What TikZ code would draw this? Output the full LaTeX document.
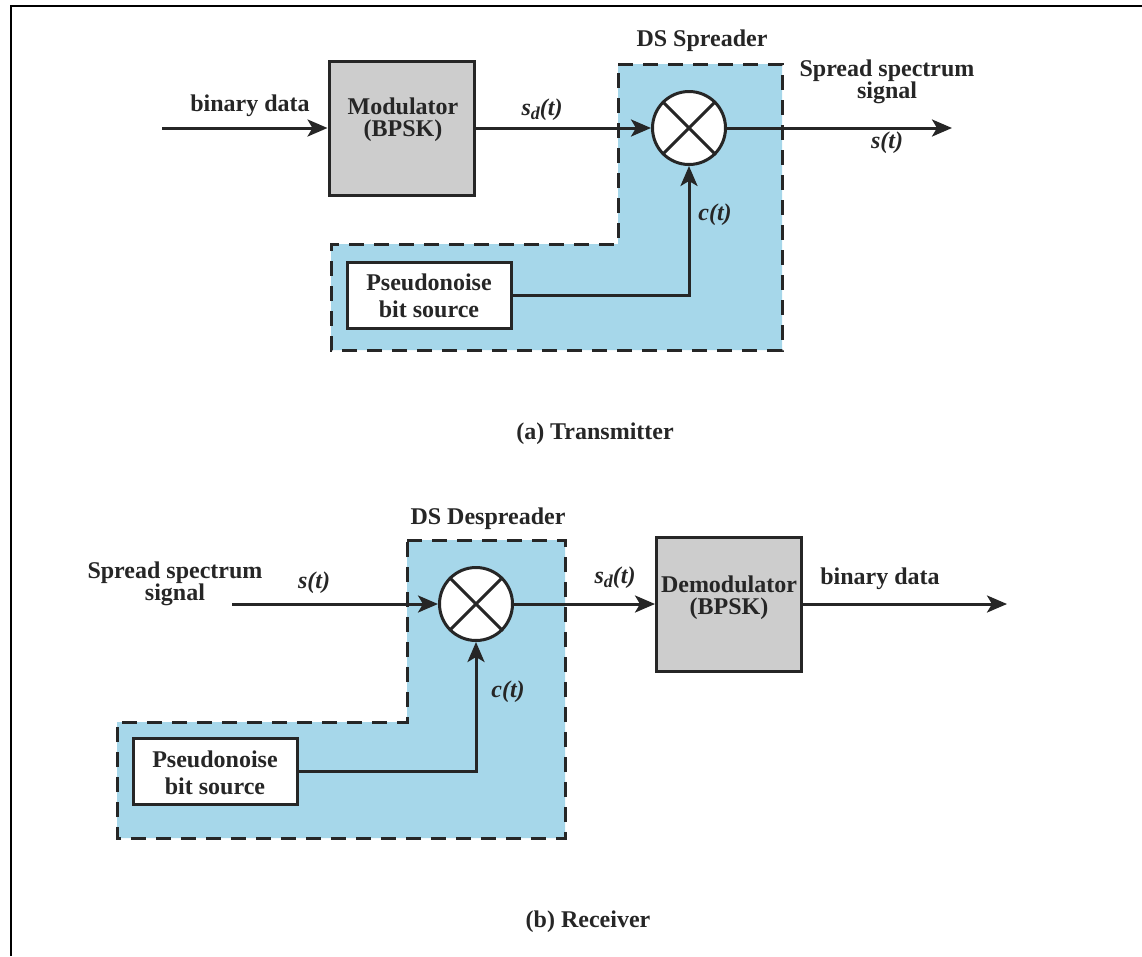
\documentclass[tikz,border=0pt]{standalone}
\usepackage{fontspec}
\setmainfont{Liberation Serif}
\usetikzlibrary{arrows.meta,positioning}
\definecolor{inkc}{HTML}{262626}
\definecolor{spreadblue}{HTML}{A6D7EA}
\definecolor{boxgray}{HTML}{CDCDCD}
\tikzset{
  lbl/.style={font=\fontsize{24}{22}\selectfont\bfseries, text=inkc, align=center, inner sep=0pt},
  mathlbl/.style={font=\fontsize{24}{22}\selectfont\bfseries\itshape, text=inkc, inner sep=0pt},
  graybox/.style={draw=inkc, line width=3pt, fill=boxgray, minimum width=145pt, minimum height=134pt, inner sep=0pt},
  pnbox/.style={draw=inkc, line width=3pt, fill=white, minimum width=164pt, minimum height=66pt, inner sep=0pt},
  pntext/.style={font=\fontsize{24}{27}\selectfont\bfseries, text=inkc, align=center, inner sep=0pt},
  mixer/.style={circle, draw=inkc, line width=3pt, fill=white, minimum size=73pt, inner sep=0pt},
  sig/.style={draw=inkc, line width=3pt, -{Stealth[length=20pt,width=17pt,inset=5pt]}},
  region/.style={draw=inkc, line width=3pt, fill=spreadblue, dash pattern=on 15pt off 10pt},
}
\begin{document}
\begin{tikzpicture}[x=1pt,y=-1pt]
\useasboundingbox (0,0) rectangle (1142,956);
% frame edges
\draw[line width=2pt, black] (11,956) -- (11,6) -- (1142,6);

% ---------------- Transmitter ----------------
\draw[region] (618,64) -- (782,64) -- (782,350) -- (331,350) -- (331,244) -- (618,244) -- cycle;
\node[lbl] (spreadtitle) at (702,41) {DS Spreader};

\coordinate (inA) at (162,128);
\coordinate (outA) at (952,128);
\node[graybox] (mod) at (401.5,128.5) {};
\node[lbl] (modtxt) at (403,120) {Modulator\\(BPSK)};
\node[mixer] (mixA) at (689,128) {};
\draw[line width=3pt, draw=inkc] (mixA.45) -- (mixA.225) (mixA.135) -- (mixA.315);
\node[pnbox] (pnA) at (429,295) {};
\node[pntext] (pnAtxt) at (429,296) {Pseudonoise\\bit source};

\draw[sig] (inA) -- (mod.west |- inA);
\draw[sig] (mod.east |- mixA) -- (mixA.west);
\draw[sig] (mixA.east) -- (outA);
\draw[sig] (pnA.east) -| (mixA.south);

\node[lbl] (bdA) at (250,106) {binary data};
\node[mathlbl] (sdA) at (542,110) {s\raisebox{-4pt}{\fontsize{18}{18}\selectfont d}(t)};
\node[lbl] (sssA) at (887,82) {Spread spectrum\\signal};
\node[mathlbl] (stA) at (887,143) {s(t)};
\node[mathlbl] (ctA) at (715,215) {c(t)};
\node[lbl] (capA) at (595,434) {(a) Transmitter};

% ---------------- Receiver ----------------
\draw[region] (407,540) -- (565,540) -- (565,838) -- (117,838) -- (117,722) -- (407,722) -- cycle;
\node[lbl] (despreadtitle) at (488,519) {DS Despreader};

\coordinate (inB) at (232,604);
\coordinate (outB) at (1007,604);
\node[mixer] (mixB) at (476,604) {};
\draw[line width=3pt, draw=inkc] (mixB.45) -- (mixB.225) (mixB.135) -- (mixB.315);
\node[graybox] (demod) at (729,604) {};
\node[lbl] (demodtxt) at (729,598) {Demodulator\\(BPSK)};
\node[pnbox] (pnB) at (215,771.5) {};
\node[pntext] (pnBtxt) at (215,773) {Pseudonoise\\bit source};

\draw[sig] (inB) -- (mixB.west);
\draw[sig] (mixB.east) -- (demod.west);
\draw[sig] (demod.east) -- (outB);
\draw[sig] (pnB.east) -| (mixB.south);

\node[lbl] (sssB) at (175,584) {Spread spectrum\\signal};
\node[mathlbl] (stB) at (314,583) {s(t)};
\node[mathlbl] (ctB) at (508,692) {c(t)};
\node[mathlbl] (sdB) at (615,578) {s\raisebox{-4pt}{\fontsize{18}{18}\selectfont d}(t)};
\node[lbl] (bdB) at (880,579) {binary data};
\node[lbl] (capB) at (588,922) {(b) Receiver};
\end{tikzpicture}
\end{document}
